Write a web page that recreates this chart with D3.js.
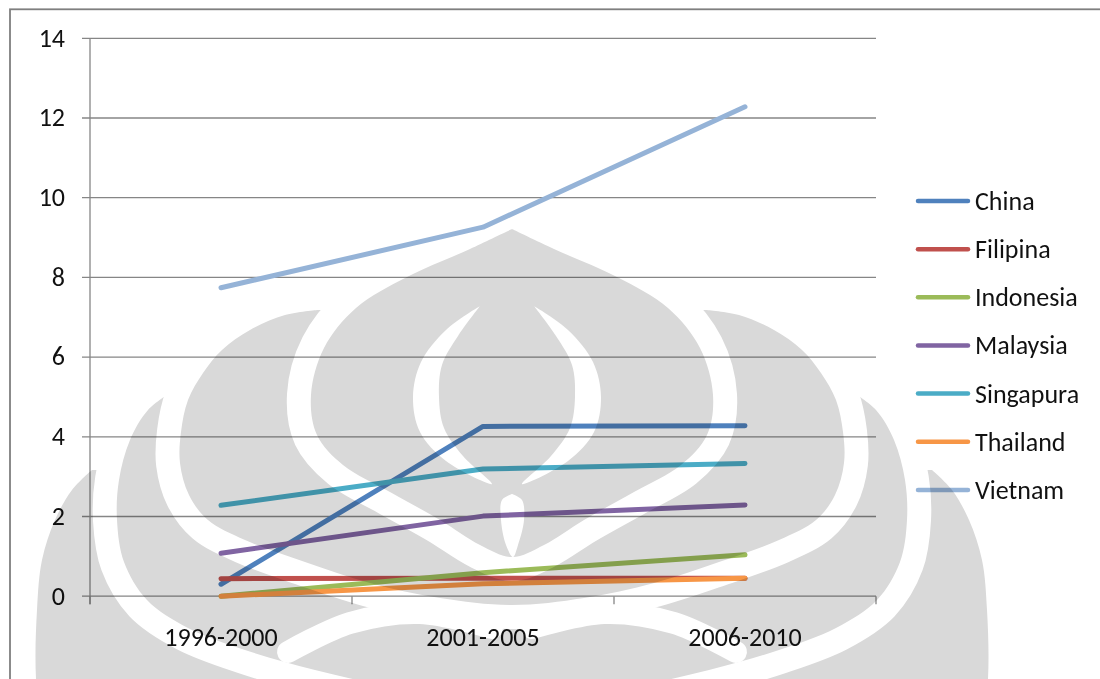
<!DOCTYPE html>
<html>
<head>
<meta charset="utf-8">
<script src="https://cdn.jsdelivr.net/npm/d3@7"></script>
<style>
  html, body { margin: 0; padding: 0; background: #ffffff; }
  svg { display: block; font-family: Carlito, Calibri, Lato, sans-serif; }
</style>
</head>
<body>
<svg id="chart" width="1100" height="679"></svg>
<script>
// ---- data ----
const categories = ["1996-2000", "2001-2005", "2006-2010"];
const countries  = ["China", "Filipina", "Indonesia", "Malaysia", "Singapura", "Thailand", "Vietnam"];
const china      = [0.30, 4.26, 4.28];
const filipina   = [0.44, 0.45, 0.45];
const indonesia  = [0.00, 0.59, 1.04];
const malaysia   = [1.08, 2.01, 2.29];
const singapura  = [2.28, 3.19, 3.33];
const thailand   = [0.00, 0.31, 0.45];
const vietnam    = [7.74, 9.26, 12.28];
const yTicks     = [0, 2, 4, 6, 8, 10, 12, 14];
const colors     = ["#4f81bd", "#c0504d", "#9bbb59", "#8064a2", "#4bacc6", "#f79646", "#95b3d7"];

const seriesValues = [china, filipina, indonesia, malaysia, singapura, thailand, vietnam];
const series = countries.map((name, i) => ({
  name, color: colors[i],
  points: categories.map((c, j) => ({ cat: c, v: seriesValues[i][j] }))
}));

// ---- layout ----
const svg = d3.select("#chart");
const plot = { left: 90, right: 876, top: 38.3, bottom: 596.2 };
const gridColor = "#868686";
const fontSize = 26;

const x = d3.scaleBand().domain(categories).range([plot.left, plot.right]);
const y = d3.scaleLinear().domain([0, 14]).range([plot.bottom, plot.top]);
const xc = c => x(c) + x.bandwidth() / 2;

// outer chart frame
svg.append("rect")
  .attr("x", 10).attr("y", 9.3).attr("width", 1200).attr("height", 800)
  .attr("fill", "none").attr("stroke", "#7f7f7f").attr("stroke-width", 1.8);

// horizontal gridlines (with short tick stubs on the left)
svg.append("g").selectAll("line").data(yTicks).join("line")
  .attr("x1", plot.left - 8).attr("x2", plot.right)
  .attr("y1", d => y(d)).attr("y2", d => y(d))
  .attr("stroke", gridColor).attr("stroke-width", 1.3);

// vertical axis
svg.append("line")
  .attr("x1", plot.left).attr("x2", plot.left)
  .attr("y1", y(14)).attr("y2", y(0) + 8)
  .attr("stroke", gridColor).attr("stroke-width", 1.3);

// category tick marks at band boundaries
const bounds = categories.map(c => x(c) + x.bandwidth()).concat([plot.left]);
svg.append("g").selectAll("line").data(bounds).join("line")
  .attr("x1", d => d).attr("x2", d => d)
  .attr("y1", y(0)).attr("y2", y(0) + 8)
  .attr("stroke", gridColor).attr("stroke-width", 1.3);

// y tick labels
svg.append("g").selectAll("text").data(yTicks).join("text")
  .attr("x", 65).attr("y", d => y(d) + 8.3)
  .attr("text-anchor", "end")
  .attr("font-size", fontSize).attr("fill", "#111")
  .text(d => d);

// category labels
svg.append("g").selectAll("text").data(categories).join("text")
  .attr("x", d => xc(d)).attr("y", 646)
  .attr("text-anchor", "middle")
  .attr("font-size", fontSize).attr("fill", "#111")
  .text(d => d);

// series lines
const line = d3.line().x(d => xc(d.cat)).y(d => y(d.v));
svg.append("g").selectAll("path").data(series).join("path")
  .attr("d", d => line(d.points))
  .attr("fill", "none")
  .attr("stroke", d => d.color)
  .attr("stroke-width", 5)
  .attr("stroke-linecap", "round")
  .attr("stroke-linejoin", "round");

// legend
const legend = svg.append("g").attr("transform", "translate(918,201)");
const lg = legend.selectAll("g").data(series).join("g")
  .attr("transform", (d, i) => `translate(0,${i * 48.15})`);
lg.append("line")
  .attr("x1", 0).attr("x2", 50).attr("y1", 0).attr("y2", 0)
  .attr("stroke", d => d.color).attr("stroke-width", 4.5)
  .attr("stroke-linecap", "round");
lg.append("text")
  .attr("x", 57).attr("y", 9)
  .attr("font-size", fontSize).attr("fill", "#111")
  .text(d => d.name);

// ---- page watermark (university emblem, printed over the chart) ----
const wm = svg.append("g").style("mix-blend-mode", "multiply");
const grey = "#d9d9d9";
const cx = 512;
const mirror = pts => pts.map(p => [2 * cx - p[0], p[1]]).reverse();
const smooth = d3.line().curve(d3.curveCatmullRom.alpha(0.5));

function layer(leftPts) {
  // leftPts run from the petal tip down to the bottom centre
  const all = leftPts.concat(mirror(leftPts.slice(0, -1)));
  wm.append("path")
    .attr("d", smooth(all) + "Z")
    .attr("fill", grey)
    .attr("stroke", "#ffffff").attr("stroke-width", 48)
    .attr("stroke-linejoin", "round")
    .attr("paint-order", "stroke");
}

// outermost petals
layer([[92, 470], [72, 490], [55, 520], [42, 560], [37, 610], [36, 679], [45, 760], [200, 830], [512, 850]]);
// outer ring petals
layer([[170, 393], [148, 410], [130, 440], [119, 480], [117, 520], [124, 562], [147, 600],
       [188, 628], [245, 650], [315, 670], [400, 688], [512, 698]]);
// inner petals
layer([[318, 310], [285, 315], [250, 330], [222, 350], [203, 373], [188, 400], [181, 432],
       [180, 463], [189, 495], [208, 520], [245, 540], [305, 562], [370, 583], [440, 598], [512, 605]]);
// central dome
layer([[512, 229], [470, 249], [407, 277], [356, 308], [324, 348], [311, 395], [317, 435],
       [343, 465], [390, 492], [440, 520], [480, 545], [512, 557]]);

// white lens around the central leaf
const lensCx = 507;
const lensLeft = [[480, 306], [446, 330], [421, 362], [413, 397], [420, 432], [446, 461], [492, 484],
                  [463, 456], [444, 428], [439, 397], [442, 365], [458, 336], [480, 306]];
[lensLeft, lensLeft.map(p => [2 * lensCx - p[0], p[1]])].forEach(pts => {
  wm.append("path").attr("d", smooth(pts) + "Z").attr("fill", "#ffffff");
});

// small white drop below the leaf
wm.append("path")
  .attr("d", smooth([[512, 494], [522, 500], [524, 520], [518, 545], [513, 557], [506, 545], [501, 520], [502, 500], [512, 494]]) + "Z")
  .attr("fill", "#ffffff");

// white arches below the axis
const archL = [[288, 652], [350, 623], [420, 613], [492, 628]];
[archL, mirror(archL)].forEach(pts => {
  wm.append("path").attr("d", smooth(pts))
    .attr("fill", "none").attr("stroke", "#ffffff")
    .attr("stroke-width", 22).attr("stroke-linecap", "round");
});
</script>
</body>
</html>
